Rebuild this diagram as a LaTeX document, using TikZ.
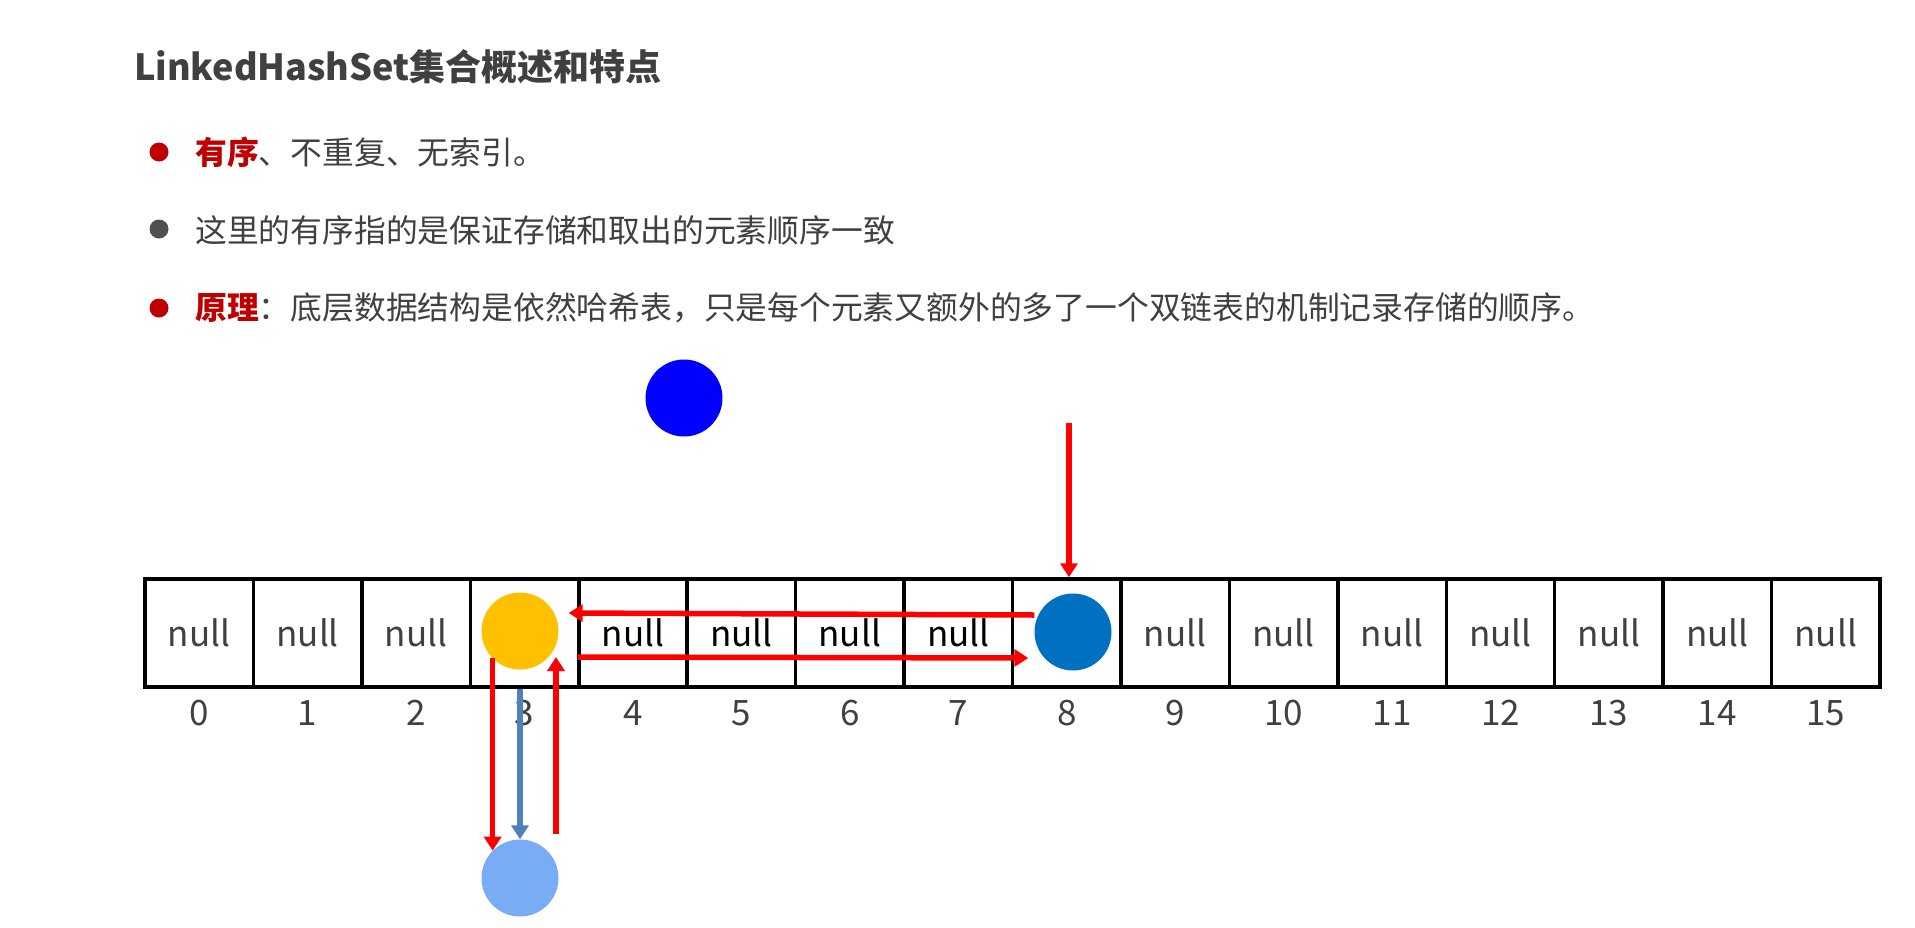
\documentclass[tikz,border=0pt]{standalone}
\usepackage{fontspec}
\setmainfont{Noto Sans CJK SC}
\usetikzlibrary{arrows.meta, positioning}
\definecolor{hlred}{HTML}{C00000}
\definecolor{txtgray}{HTML}{404040}
\definecolor{dotgray}{HTML}{505050}
\definecolor{arrred}{HTML}{FF0000}
\definecolor{arrsteel}{HTML}{4F81BD}
\definecolor{elyellow}{HTML}{FFC000}
\definecolor{eldblue}{HTML}{0070C0}
\definecolor{ellblue}{HTML}{7AACF6}
\definecolor{elblue}{HTML}{0000FF}
\tikzset{
    cell/.style={rectangle, draw=black, line width=3.5pt, minimum width=108.44pt, minimum height=108pt, inner sep=0pt},
    nulltxt/.style={font=\fontsize{35}{40}\selectfont, text=txtgray, inner sep=0pt},
    idx/.style={font=\fontsize{35}{40}\selectfont, text=txtgray, inner sep=0pt},
    elem/.style={circle, minimum size=77pt, inner sep=0pt},
    bullet/.style={circle, minimum size=19pt, inner sep=0pt},
    line/.style={anchor=west, inner sep=0pt, font=\fontsize{31.8}{38}\selectfont, text=txtgray},
    arr/.style={-{Triangle[length=14pt, width=17pt]}, line width=5.5pt, arrred},
    arrb/.style={arr, line width=5.5pt, arrsteel},
}

\begin{document}
\begin{tikzpicture}[x=1pt, y=-1pt]

\path[fill=white, use as bounding box] (0,0) rectangle (1915,927);

% ── Heading and bullet lines ──
\node[anchor=west, inner sep=0pt, font=\bfseries\fontsize{36}{42}\selectfont, text=txtgray] (title) at (134,67) {LinkedHashSet集合概述和特点};

\node[bullet, fill=hlred] (b1) at (159,152) {};
\node[line] (t1) at (195,152) {{\bfseries\color{hlred}有序}、不重复、无索引。};
\node[bullet, fill=dotgray] (b2) at (159,229) {};
\node[line] (t2) at (195,230) {这里的有序指的是保证存储和取出的元素顺序一致};
\node[bullet, fill=hlred] (b3) at (159,308) {};
\node[line] (t3) at (195,308) {{\bfseries\color{hlred}原理}：底层数据结构是依然哈希表，只是每个元素又额外的多了一个双链表的机制记录存储的顺序。};

% ── Hash table (16 buckets) ──
\foreach \i in {0,...,15} {
    \node[cell] (c\i) at ({145+(\i+0.5)*108.44}, 633) {};
    \node[idx] (n\i) at ({145+(\i+0.5)*108.44}, 713) {\i};
}
\foreach \i in {0,1,2,9,10,11,12,13,14,15}
    \node[nulltxt] (z\i) at (c\i) {null};
\foreach \i in {4,...,7}
    \node[nulltxt, text=black] (z\i) at (c\i) {null};

% ── Elements ──
\node[elem, fill=elblue] (newel) at (684,398) {};
\node[elem, fill=elyellow] (el3) at (520,631) {};
\node[elem, fill=eldblue] (el8) at (1073,632) {};
\node[elem, fill=ellblue] (el3b) at (520,878) {};

% ── Insert into bucket 8 ──
\coordinate (drop) at (1069,423);
\draw[arr] (drop) -- (drop |- c8.north);

% ── Double links between elements ──
\draw[arr] ([yshift=17pt]el8.west) -- ([xshift=10pt, yshift=18pt]el3.east);
\draw[arr] ([xshift=19pt, yshift=-26pt]el3.east) -- ([xshift=-6pt, yshift=-26pt]el8.west);
\draw[arr] (el3.225) -- (el3b.135);
\draw[arr] ([xshift=36pt, yshift=5pt]el3b.north) -- ([xshift=36pt, yshift=-26pt]el3.center);

% ── Bucket chain ──
\draw[arrb] (el3b |- c3.south) -- (el3b.north);

\end{tikzpicture}
\end{document}
